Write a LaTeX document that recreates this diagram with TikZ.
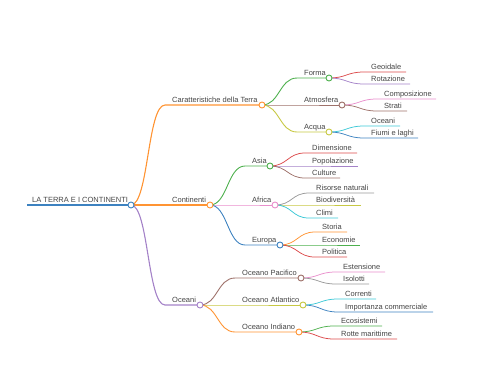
\documentclass[tikz,border=0pt]{standalone}
\usepackage{fontspec}
\setmainfont{Liberation Sans}
\definecolor{cblue}{HTML}{3D82C0}
\definecolor{corange}{HTML}{FF9433}
\definecolor{cgreen}{HTML}{4DB04D}
\definecolor{cred}{HTML}{DC4A4B}
\definecolor{cpurple}{HTML}{A482C8}
\definecolor{cbrown}{HTML}{9E716A}
\definecolor{cpink}{HTML}{E98FCC}
\definecolor{cgray}{HTML}{999999}
\definecolor{colive}{HTML}{C7C843}
\definecolor{ccyan}{HTML}{3CC8D6}
\definecolor{ctext}{HTML}{444444}
\newcommand\mmleaf[7]{%
  \coordinate (#2-s) at (#3,#4);
  \coordinate (#2) at (#5,#4);
  \draw[line width=0.75pt,#6] (#1) .. controls +(17.5,0) and +(-17.5,0) .. (#2-s) -- (#2);
  \node[lbl] (#2-t) at ([xshift=7pt,yshift=2.5pt]#2-s) {#7};
}
\newcommand\mminner[8]{%
  \coordinate (#2-s) at (#3,#5);
  \coordinate (#2) at (#4,#5);
  \draw[line width=#7,#6] (#1) .. controls +(17.5,0) and +(-17.5,0) .. (#2-s) -- (#2);
  \node[lbl] (#2-t) at ([xshift=7pt,yshift=2.5pt]#2-s) {#8};
}
\begin{document}
\begin{tikzpicture}[x=1pt,y=-1pt,
  lbl/.style={anchor=base west,inner sep=0pt,text=ctext,font=\fontsize{7.5}{9}\selectfont},
  circ/.style={circle,fill=white,line width=0.9pt,minimum size=6pt,inner sep=0pt}]
\useasboundingbox (0,0) rectangle (480,384);
% root
\coordinate (root-s) at (27,205);
\coordinate (root) at (131,205);
\draw[line width=1.7pt,cblue] (root-s) -- (root);
\node[lbl] (root-t) at ([xshift=5pt,yshift=2.5pt]root-s) {LA TERRA E I CONTINENTI};
% level 1
\mminner{root}{car}{165}{262}{105}{corange}{1.1pt}{Caratteristiche della Terra}
\mminner{root}{con}{165}{210}{205}{corange}{1.1pt}{Continenti}
\mminner{root}{oce}{165}{200}{305}{cpurple}{1.1pt}{Oceani}
% level 2
\mminner{car}{forma}{297}{329}{78}{cgreen}{0.9pt}{Forma}
\mminner{car}{atmo}{297}{342}{105}{cbrown}{0.9pt}{Atmosfera}
\mminner{car}{acqua}{297}{329}{132}{colive}{0.9pt}{Acqua}
\mminner{con}{asia}{245}{270}{166}{cgreen}{0.9pt}{Asia}
\mminner{con}{africa}{245}{275}{205}{cpink}{0.9pt}{Africa}
\mminner{con}{europa}{245}{280}{245}{cblue}{0.9pt}{Europa}
\mminner{oce}{pac}{235}{301}{278}{cbrown}{0.9pt}{Oceano Pacifico}
\mminner{oce}{atl}{235}{303}{305}{colive}{0.9pt}{Oceano Atlantico}
\mminner{oce}{ind}{235}{299}{332}{corange}{0.9pt}{Oceano Indiano}
% leaves
\mmleaf{forma}{geo}{364}{72}{406}{cred}{Geoidale}
\mmleaf{forma}{rot}{364}{84}{410}{cpurple}{Rotazione}
\mmleaf{atmo}{comp}{377}{99}{436}{cpink}{Composizione}
\mmleaf{atmo}{strati}{377}{111}{407}{cbrown}{Strati}
\mmleaf{acqua}{oceani2}{364}{126}{400}{ccyan}{Oceani}
\mmleaf{acqua}{fiumi}{364}{138}{418}{cblue}{Fiumi e laghi}
\mmleaf{asia}{dim}{305}{153}{357}{cred}{Dimensione}
\mmleaf{asia}{pop}{305}{166}{358}{cpurple}{Popolazione}
\mmleaf{asia}{cult}{305}{178}{340}{cbrown}{Culture}
\mmleaf{africa}{ris}{309}{193}{374}{cgray}{Risorse naturali}
\mmleaf{africa}{bio}{309}{205}{361}{colive}{Biodiversità}
\mmleaf{africa}{climi}{309}{218}{338}{ccyan}{Climi}
\mmleaf{europa}{storia}{315}{232}{347}{corange}{Storia}
\mmleaf{europa}{eco}{315}{245}{360}{cgreen}{Economie}
\mmleaf{europa}{pol}{315}{257}{347}{cred}{Politica}
\mmleaf{pac}{est}{336}{272}{385}{cpink}{Estensione}
\mmleaf{pac}{iso}{336}{284}{369}{cgray}{Isolotti}
\mmleaf{atl}{corr}{338}{299}{376}{ccyan}{Correnti}
\mmleaf{atl}{imp}{338}{312}{433}{cblue}{Importanza commerciale}
\mmleaf{ind}{ecos}{334}{326}{382}{cgreen}{Ecosistemi}
\mmleaf{ind}{rotte}{334}{339}{397}{cred}{Rotte marittime}
% circles
\foreach \n/\c in {root/cblue,car/corange,con/corange,oce/cpurple,forma/cgreen,atmo/cbrown,acqua/colive,asia/cgreen,africa/cpink,europa/cblue,pac/cbrown,atl/colive,ind/corange}
  \node[circ,draw=\c] (\n-o) at (\n) {};
\end{tikzpicture}
\end{document}
